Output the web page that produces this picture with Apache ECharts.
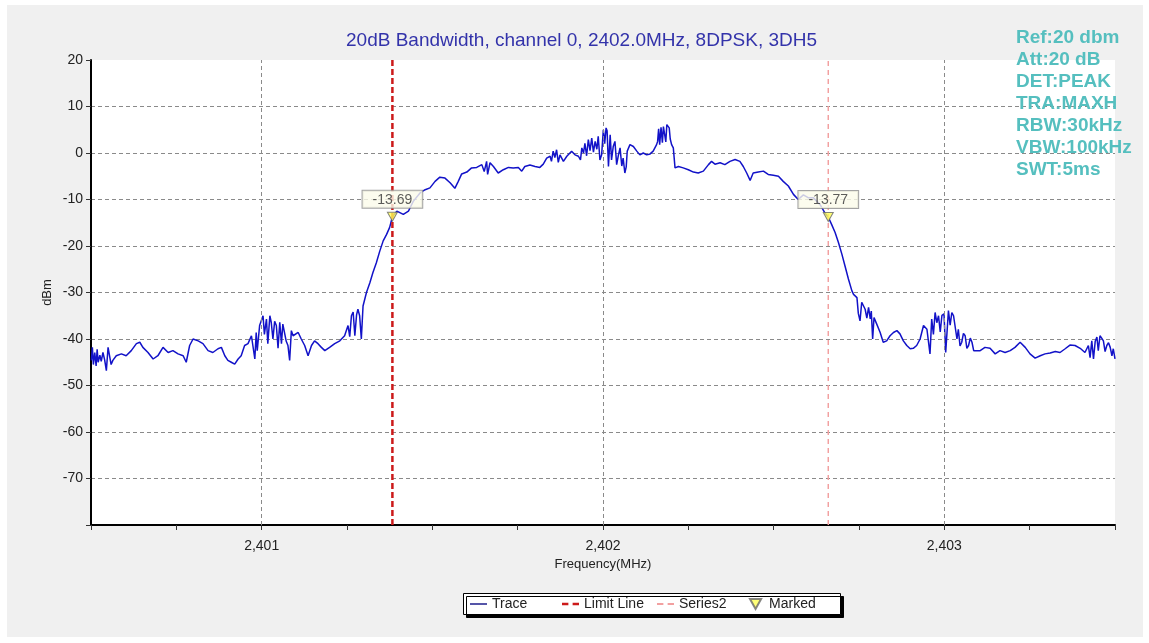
<!DOCTYPE html>
<html>
<head>
<meta charset="utf-8">
<script src="https://cdn.jsdelivr.net/npm/echarts@6/dist/echarts.min.js"></script>
<style>
  html, body { margin: 0; padding: 0; background: #fff; }
  #chart { position: absolute; left: 7px; top: 5px; width: 1136px; height: 632px; }
</style>
</head>
<body>
<div id="chart"></div>
<script>
// trace: [frequency MHz, level dBm]
const trace = [
  [2400.501, -44.6], [2400.504, -41.8], [2400.507, -45.5], [2400.511, -42.9], [2400.515, -45.8],
  [2400.518, -42.2], [2400.521, -45], [2400.526, -43.5], [2400.530, -44.8], [2400.535, -42.9],
  [2400.540, -44.5], [2400.545, -46.8], [2400.550, -41.8], [2400.555, -42], [2400.559, -45.5],
  [2400.564, -44.6], [2400.574, -43.6], [2400.589, -43.2], [2400.603, -43.6], [2400.618, -42.5],
  [2400.633, -41], [2400.643, -40.7], [2400.652, -41.8], [2400.667, -42.9], [2400.682, -44.3],
  [2400.696, -43.6], [2400.711, -41.8], [2400.726, -42.9], [2400.740, -42.5], [2400.755, -43.2],
  [2400.770, -43.6], [2400.779, -45], [2400.789, -41.4], [2400.799, -40], [2400.814, -40.4],
  [2400.828, -41], [2400.843, -42.5], [2400.857, -42.9], [2400.872, -42.1], [2400.882, -41.8],
  [2400.892, -43.6], [2400.901, -44.6], [2400.911, -45], [2400.921, -45.4], [2400.931, -44.3],
  [2400.940, -43.6], [2400.950, -41.4], [2400.960, -41], [2400.970, -39.3], [2400.980, -44.3],
  [2400.984, -38.6], [2400.987, -42.5], [2400.994, -37.1], [2401.004, -35], [2401.008, -39],
  [2401.014, -35.7], [2401.018, -41], [2401.024, -35], [2401.028, -36.4], [2401.033, -40],
  [2401.038, -36.2], [2401.043, -37.1], [2401.048, -42], [2401.053, -36.4], [2401.058, -41],
  [2401.062, -36.8], [2401.067, -37.1], [2401.072, -40.5], [2401.077, -41.4], [2401.082, -44.6],
  [2401.087, -38.2], [2401.092, -39.3], [2401.107, -38.6], [2401.116, -40], [2401.126, -41.4],
  [2401.136, -43.6], [2401.146, -41.4], [2401.155, -40.4], [2401.165, -41], [2401.175, -41.8],
  [2401.185, -42.5], [2401.199, -41.8], [2401.214, -41], [2401.229, -40.4], [2401.243, -39.3],
  [2401.253, -37.1], [2401.258, -39.5], [2401.263, -35], [2401.268, -34.2], [2401.273, -39.3],
  [2401.278, -34.8], [2401.282, -33.6], [2401.287, -35.0], [2401.292, -40], [2401.297, -32.9],
  [2401.307, -30], [2401.317, -27.9], [2401.326, -25.7], [2401.336, -23.6], [2401.346, -21.1],
  [2401.356, -18.9], [2401.366, -17.5], [2401.375, -16], [2401.383, -13.69], [2401.396, -12.5],
  [2401.415, -13.2], [2401.430, -12.5], [2401.444, -10.4], [2401.464, -8.6], [2401.479, -7.9],
  [2401.493, -7.5], [2401.508, -6.1], [2401.522, -5.2], [2401.537, -5.4], [2401.552, -6.4],
  [2401.566, -7.6], [2401.576, -6.1], [2401.586, -4.5], [2401.601, -4.1], [2401.615, -3.2],
  [2401.630, -3.1], [2401.645, -2.5], [2401.652, -4.0], [2401.659, -1.8], [2401.662, -4.6],
  [2401.669, -2.1], [2401.679, -2.9], [2401.693, -4.3], [2401.708, -3.6], [2401.723, -3.1],
  [2401.737, -3.2], [2401.752, -3.1], [2401.762, -3.9], [2401.771, -2.9], [2401.786, -2.6],
  [2401.801, -2.9], [2401.815, -3.1], [2401.825, -2.4], [2401.835, -1.1], [2401.845, -0.7],
  [2401.849, -1.8], [2401.854, 0.4], [2401.859, -1.0], [2401.864, 0.7], [2401.869, -2.0],
  [2401.874, -0.4], [2401.884, -1.8], [2401.894, -0.7], [2401.908, 0.4], [2401.918, -0.4],
  [2401.928, -0.7], [2401.934, -1.5], [2401.938, 1.1], [2401.943, 0.0], [2401.947, 2.1],
  [2401.952, -0.6], [2401.957, 2.9], [2401.962, 0.5], [2401.967, 3.2], [2401.972, 0.2],
  [2401.977, 2.5], [2401.982, 0.8], [2401.986, 3.6], [2401.991, -1.5], [2401.996, -0.4],
  [2402.001, 5.0], [2402.005, 2.0], [2402.009, 5.4], [2402.012, 4.8], [2402.016, -2.9],
  [2402.021, 3.9], [2402.025, -1.5], [2402.030, 1.4], [2402.035, 2.5], [2402.040, -2.5],
  [2402.045, -0.5], [2402.050, 1.1], [2402.055, -2.8], [2402.059, -1.1], [2402.064, -4.3],
  [2402.068, -3.0], [2402.071, 0.4], [2402.079, 1.8], [2402.089, 1.4], [2402.099, 0.4],
  [2402.108, -0.4], [2402.118, 0], [2402.128, -0.4], [2402.138, -0.2], [2402.147, 0.4],
  [2402.157, 1.8], [2402.160, 2.5], [2402.163, 5.2], [2402.166, 1.8], [2402.170, 5.5],
  [2402.174, 2.2], [2402.177, 5.7], [2402.180, 6.0], [2402.184, 2.4], [2402.187, 6.1],
  [2402.190, 5.9], [2402.194, 5.4], [2402.197, 3.0], [2402.201, 1.8], [2402.206, 1.1],
  [2402.211, -3.2], [2402.221, -2.9], [2402.235, -3.2], [2402.250, -3.6], [2402.265, -4.1],
  [2402.279, -4.3], [2402.294, -3.9], [2402.309, -2.5], [2402.318, -1.8], [2402.328, -2.4],
  [2402.343, -2.1], [2402.357, -2.5], [2402.372, -1.8], [2402.387, -1.4], [2402.401, -1.8],
  [2402.411, -2.9], [2402.421, -4.3], [2402.431, -5.9], [2402.440, -4.3], [2402.455, -4.1],
  [2402.470, -3.9], [2402.484, -4.6], [2402.499, -4.8], [2402.514, -5.0], [2402.528, -6.1],
  [2402.543, -7.1], [2402.558, -8.9], [2402.572, -10.0], [2402.587, -9.0], [2402.601, -9.6],
  [2402.616, -9.6], [2402.636, -11.1], [2402.650, -12.9], [2402.660, -13.77], [2402.670, -15.4],
  [2402.680, -17.1], [2402.690, -19.3], [2402.700, -21.8], [2402.709, -24.3], [2402.719, -27.1],
  [2402.729, -29.6], [2402.734, -30.4], [2402.744, -31.1], [2402.748, -34.5], [2402.753, -36.1],
  [2402.758, -32.1], [2402.763, -31.8], [2402.768, -33.6], [2402.773, -35.5], [2402.778, -33.2],
  [2402.783, -35.7], [2402.786, -34.0], [2402.790, -40], [2402.794, -35.4], [2402.802, -36.8],
  [2402.812, -38.6], [2402.821, -40.7], [2402.831, -40.4], [2402.841, -39.3], [2402.851, -38.6],
  [2402.861, -38.2], [2402.870, -38.9], [2402.880, -40.4], [2402.890, -41.4], [2402.900, -42.1],
  [2402.909, -42], [2402.919, -41.4], [2402.929, -40], [2402.939, -37.1], [2402.949, -37.9],
  [2402.958, -43.2], [2402.963, -35.7], [2402.968, -39.0], [2402.973, -34.3], [2402.978, -36.5],
  [2402.983, -35], [2402.988, -38.5], [2402.993, -34.9], [2402.999, -34.6], [2403.004, -42.9],
  [2403.012, -33.9], [2403.017, -37.0], [2403.022, -34.3], [2403.027, -35.0], [2403.032, -35],
  [2403.037, -40], [2403.041, -37.9], [2403.046, -41.5], [2403.051, -40.7], [2403.056, -38.8],
  [2403.061, -39.3], [2403.066, -42.0], [2403.071, -41.4], [2403.076, -39.8], [2403.081, -40.7],
  [2403.086, -42.5], [2403.090, -42.1], [2403.105, -42.5], [2403.119, -41.8], [2403.134, -42],
  [2403.149, -43.2], [2403.163, -42.5], [2403.178, -42.9], [2403.193, -42.5], [2403.207, -41.8],
  [2403.222, -40.7], [2403.237, -41.8], [2403.251, -43.2], [2403.266, -44.1], [2403.281, -43.6],
  [2403.295, -43.2], [2403.310, -43], [2403.325, -42.7], [2403.339, -42.9], [2403.354, -42.1],
  [2403.368, -41.3], [2403.383, -41.4], [2403.398, -42], [2403.412, -42.9], [2403.422, -41.4],
  [2403.427, -44.0], [2403.432, -40.4], [2403.437, -44.3], [2403.442, -40.5], [2403.447, -39.6],
  [2403.451, -42.5], [2403.456, -39.3], [2403.461, -39.8], [2403.466, -40.4], [2403.471, -42.7],
  [2403.476, -41.4], [2403.481, -40.8], [2403.486, -41.8], [2403.491, -43.6], [2403.495, -42.1],
  [2403.500, -44.3]
];

const limitFreq = 2401.383;
const series2Freq = 2402.660;
const markFreqs = [2401.383, 2402.660];
const markLevels = [-13.69, -13.77];
const gridFreqs = [2401, 2402, 2403];
const freqRange = [2400.5, 2403.5];
const levelRange = [-80, 20];

const titleText = '20dB Bandwidth, channel 0, 2402.0MHz, 8DPSK, 3DH5';
const infoLines = ['Ref:20 dbm', 'Att:20 dB', 'DET:PEAK', 'TRA:MAXH', 'RBW:30kHz', 'VBW:100kHz', 'SWT:5ms'];
const legendNames = ['Trace', 'Limit Line', 'Series2', 'Marked'];
const legendIcons = [
  'path://M0,0H16V1.4H0Z',
  'path://M0,0H6V2.5H0Z M10,0H16V2.5H10Z',
  'path://M0,0H6V1.8H0Z M10,0H16V1.8H10Z',
  'path://M0,0L10,0L5,9Z'
];
const legendLeft = [463, 555, 650, 742];

const FONT = '"Liberation Sans", Arial, sans-serif';
const chart = echarts.init(document.getElementById('chart'));

const option = {
  animation: false,
  backgroundColor: '#f0f0f0',
  textStyle: { fontFamily: FONT },
  title: {
    text: titleText,
    left: 334,
    top: 21,
    textStyle: { color: '#3333aa', fontSize: 19, fontWeight: 'normal', fontFamily: FONT }
  },
  grid: {
    left: 84, right: 28, top: 55, bottom: 112,
    show: true, backgroundColor: '#fff', borderWidth: 0
  },
  // one legend per item so the spacing can follow the original
  legend: legendNames.map((n, i) => ({
    data: [{ name: n, icon: legendIcons[i] }],
    left: legendLeft[i], top: 592,
    itemWidth: 17, itemHeight: 10, itemGap: 0, padding: 0,
    textStyle: { color: '#222', fontSize: 14, fontFamily: FONT },
    selectedMode: false
  })),
  xAxis: {
    type: 'value',
    min: freqRange[0], max: freqRange[1], interval: 0.25,
    name: 'Frequency(MHz)', nameLocation: 'middle', nameGap: 32,
    nameTextStyle: { color: '#222', fontSize: 13 },
    axisLine: { onZero: false, lineStyle: { color: '#000', width: 2 } },
    axisTick: { length: 5, lineStyle: { color: '#333' } },
    axisLabel: {
      color: '#222', fontSize: 14, margin: 14,
      formatter: v => Math.abs(v - Math.round(v)) < 1e-6 ? Math.round(v).toLocaleString('en-US') : ''
    },
    splitLine: { show: false }
  },
  yAxis: {
    type: 'value',
    min: levelRange[0], max: levelRange[1], interval: 10,
    name: 'dBm', nameLocation: 'middle', nameGap: 37, nameRotate: 90,
    nameMoveOverlap: false,
    nameTextStyle: { color: '#222', fontSize: 13 },
    axisLine: { show: true, onZero: false, lineStyle: { color: '#000', width: 2 } },
    axisTick: { show: true, length: 5, lineStyle: { color: '#333' } },
    axisLabel: {
      color: '#222', fontSize: 14, margin: 8,
      formatter: v => v === levelRange[0] ? '' : String(v)
    },
    splitLine: {
      show: true, showMinLine: false, showMaxLine: false,
      lineStyle: { color: '#8a8a8a', type: [4, 3], width: 1 }
    }
  },
  graphic: [
    {
      type: 'rect',
      left: 456, top: 588, z: 0,
      shape: { width: 377, height: 21 },
      style: {
        fill: '#fff', stroke: '#000', lineWidth: 1,
        shadowColor: '#000', shadowOffsetX: 3, shadowOffsetY: 3, shadowBlur: 0
      }
    }
  ].concat(infoLines.map((t, i) => ({
    type: 'text',
    left: 1009,
    top: 23 + i * 22,
    z: 100,
    style: { text: t, fill: '#55bfbf', font: 'bold 19px ' + FONT }
  }))),
  series: [
    {
      name: 'grid',
      type: 'line',
      data: [],
      silent: true,
      z: 1,
      markLine: {
        silent: true, symbol: 'none', animation: false,
        label: { show: false },
        lineStyle: { color: '#8a8a8a', type: [4, 3], width: 1 },
        data: gridFreqs.map(f => ({ xAxis: f }))
      }
    },
    {
      name: legendNames[0],
      type: 'line',
      data: trace,
      symbol: 'none',
      z: 3,
      lineStyle: { color: '#1212c8', width: 1.5 },
      itemStyle: { color: '#1a1a8a' }
    },
    {
      name: legendNames[1],
      type: 'line',
      data: [[limitFreq, levelRange[0]], [limitFreq, levelRange[1]]],
      symbol: 'none',
      z: 4,
      lineStyle: { color: '#cc1a1a', width: 2.5, type: [6, 3] },
      itemStyle: { color: '#cc1a1a' }
    },
    {
      name: legendNames[2],
      type: 'line',
      data: [[series2Freq, levelRange[0]], [series2Freq, levelRange[1]]],
      symbol: 'none',
      z: 4,
      lineStyle: { color: '#f2a0a0', width: 1.5, type: [5, 4] },
      itemStyle: { color: '#f2a0a0' }
    },
    {
      name: legendNames[3],
      type: 'scatter',
      data: markFreqs.map((f, i) => [f, markLevels[i]]),
      symbol: 'triangle',
      symbolRotate: 180,
      symbolSize: [10, 9],
      z: 6,
      itemStyle: { color: '#ffff55', borderColor: '#666', borderWidth: 1 },
      label: {
        show: true, position: 'top', distance: 4,
        formatter: p => p.value[1].toFixed(2),
        color: '#333', fontSize: 14,
        backgroundColor: '#fbfbea', borderColor: '#8c8c8c', borderWidth: 1,
        padding: [2, 10, 1, 10]
      }
    }
  ]
};

chart.setOption(option);
</script>
</body>
</html>
